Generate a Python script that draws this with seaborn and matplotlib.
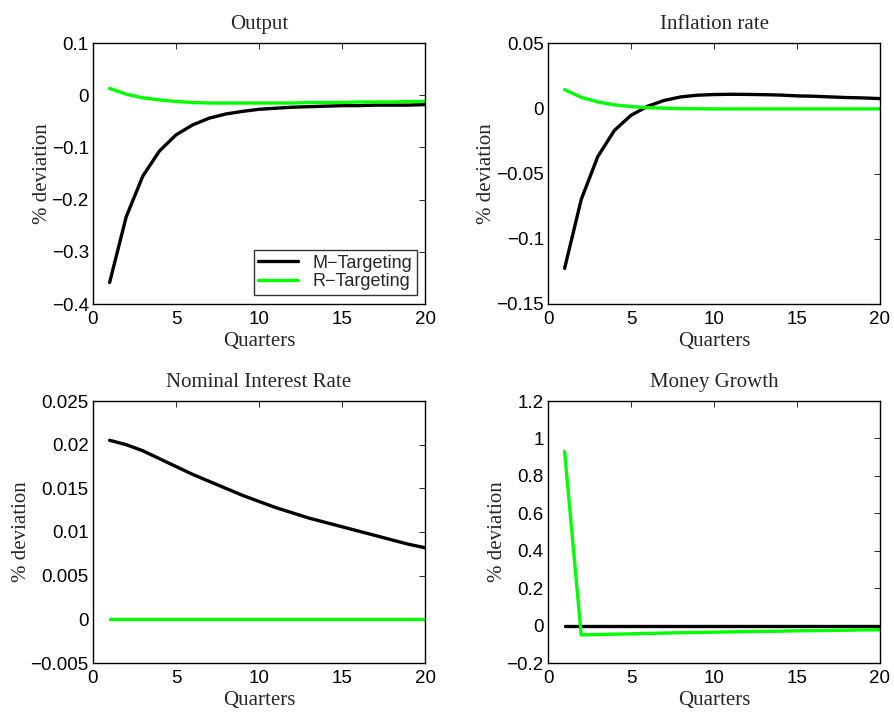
import numpy as np
import pandas as pd
import matplotlib
matplotlib.use("Agg")
import matplotlib.pyplot as plt
import seaborn as sns

sns.set_style("white")
plt.rcParams['font.family'] = ['Liberation Sans', 'DejaVu Sans']
plt.rcParams['axes.unicode_minus'] = True

quarters = list(range(1, 21))

# Output
output_m = [-0.359, -0.233, -0.155, -0.107, -0.076, -0.057, -0.044, -0.036, -0.031, -0.027,
            -0.025, -0.023, -0.022, -0.021, -0.020, -0.020, -0.019, -0.019, -0.019, -0.018]
output_r = [0.013, 0.002, -0.005, -0.009, -0.012, -0.014, -0.015, -0.015, -0.015, -0.015,
            -0.015, -0.015, -0.014, -0.014, -0.014, -0.013, -0.013, -0.013, -0.012, -0.012]

# Inflation rate
infl_m = [-0.1227, -0.070, -0.037, -0.017, -0.0054, 0.0015, 0.006, 0.0087, 0.0100, 0.0105,
          0.0107, 0.0106, 0.0104, 0.0101, 0.0095, 0.0092, 0.0087, 0.0082, 0.0079, 0.0074]
infl_r = [0.0143, 0.0084, 0.0048, 0.0026, 0.0013, 0.0005, 0.0, -0.0003, -0.0004, -0.0005,
          -0.0005, -0.0005, -0.0005, -0.0005, -0.0005, -0.0005, -0.0005, -0.0005, -0.0005, -0.0005]

# Nominal interest rate
rate_m = [0.0205, 0.0200, 0.0193, 0.0184, 0.0175, 0.0166, 0.0158, 0.0150, 0.0142, 0.0135,
          0.0128, 0.0122, 0.0116, 0.0111, 0.0106, 0.0101, 0.0096, 0.0091, 0.0086, 0.0082]
rate_r = [0.0] * 20

# Money growth
money_m = [0.0] * 20
money_r = [0.93, -0.050, -0.048, -0.046, -0.044, -0.042, -0.040, -0.038, -0.037, -0.035,
           -0.034, -0.032, -0.031, -0.030, -0.028, -0.027, -0.026, -0.025, -0.023, -0.022]

panels = [
    ("Output", output_m, output_r, (-0.4, 0.1), [-0.4, -0.3, -0.2, -0.1, 0, 0.1],
     ["\u22120.4", "\u22120.3", "\u22120.2", "\u22120.1", "0", "0.1"]),
    ("Inflation rate", infl_m, infl_r, (-0.15, 0.05), [-0.15, -0.1, -0.05, 0, 0.05],
     ["\u22120.15", "\u22120.1", "\u22120.05", "0", "0.05"]),
    ("Nominal Interest Rate", rate_m, rate_r, (-0.005, 0.025),
     [-0.005, 0, 0.005, 0.01, 0.015, 0.02, 0.025],
     ["\u22120.005", "0", "0.005", "0.01", "0.015", "0.02", "0.025"]),
    ("Money Growth", money_m, money_r, (-0.2, 1.2), [-0.2, 0, 0.2, 0.4, 0.6, 0.8, 1, 1.2],
     ["\u22120.2", "0", "0.2", "0.4", "0.6", "0.8", "1", "1.2"]),
]

W, H = 894, 717
fig = plt.figure(figsize=(W / 100, H / 100), dpi=100)
# axes boxes in pixels: left, top, right, bottom
boxes = [(93, 43, 425, 304), (548, 43, 880, 304), (93, 401, 425, 663), (548, 401, 880, 663)]

serif = ['Liberation Serif', 'DejaVu Serif']

for (title, m, r, ylim, yt, ytl), (l, t, rr, b) in zip(panels, boxes):
    ax = fig.add_axes([l / W, 1 - b / H, (rr - l) / W, (b - t) / H])
    df = pd.DataFrame({"Quarter": quarters * 2,
                       "value": m + r,
                       "policy": ["M\u2212Targeting"] * 20 + ["R\u2212Targeting"] * 20})
    sns.lineplot(data=df, x="Quarter", y="value", hue="policy",
                 palette={"M\u2212Targeting": "black", "R\u2212Targeting": "#00ff00"},
                 linewidth=2.4, ax=ax, legend=(title == "Output"))
    ax.set_xlim(0, 20)
    ax.set_ylim(*ylim)
    ax.set_xticks([0, 5, 10, 15, 20])
    ax.set_yticks(yt)
    ax.set_yticklabels(ytl)
    ax.tick_params(direction='in', top=True, right=True, length=4, width=0.6,
                   labelsize=13.5, colors='black')
    ax.tick_params(axis='x', pad=5)
    ax.tick_params(axis='y', pad=3)
    for s in ax.spines.values():
        s.set_color('black')
        s.set_linewidth(1.0)
    ax.set_title(title, family=serif, fontsize=15, pad=10)
    ax.set_xlabel("Quarters", family=serif, fontsize=15, labelpad=3)
    ax.set_ylabel("% deviation", family=serif, fontsize=15, labelpad=0)
    if title == "Output":
        leg = ax.legend(loc='lower right', bbox_to_anchor=(0.975, 0.035), fontsize=13,
                        frameon=True, fancybox=False, handlelength=2.2,
                        borderpad=0.25, labelspacing=0.1, handletextpad=0.8,
                        borderaxespad=0)
        leg.get_frame().set_edgecolor('black')
        leg.get_frame().set_linewidth(1.0)
        leg.set_title(None)

fig.savefig("out.png", dpi=100, facecolor='white')
